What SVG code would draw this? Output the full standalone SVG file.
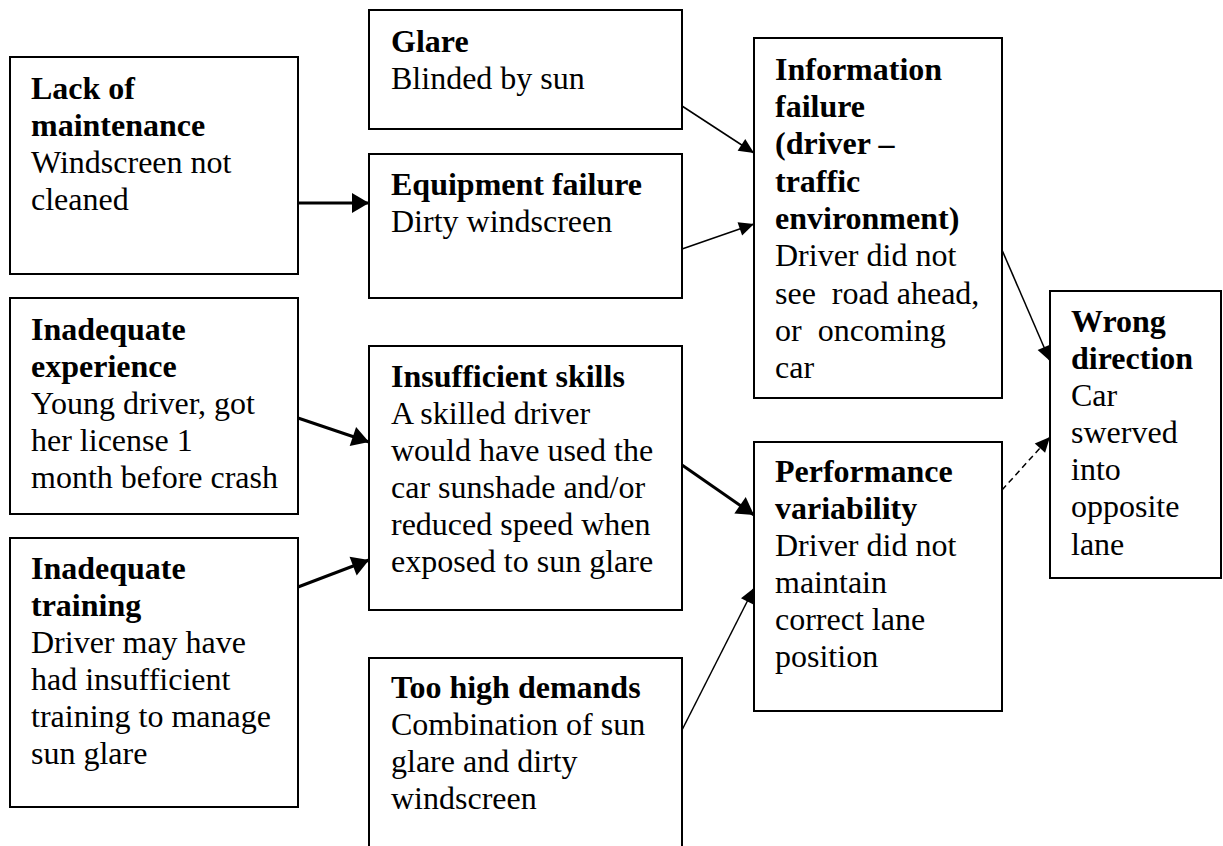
<svg xmlns="http://www.w3.org/2000/svg" width="1223" height="846" viewBox="0 0 1223 846">
<style>
  .box { fill: #fff; stroke: #000; stroke-width: 2; }
  text { font-family: "Liberation Serif", "Times New Roman", serif; font-size: 32px; fill: #000; white-space: pre; }
  .b { font-weight: bold; }
  .thick { stroke: #000; stroke-width: 3; fill: none; marker-end: url(#ahThick); }
  .thin { stroke: #000; stroke-width: 1.5; fill: none; marker-end: url(#ahThin); }
  .dash { stroke: #000; stroke-width: 1.5; fill: none; stroke-dasharray: 6 4; marker-end: url(#ahThin); }
</style>
<defs>
  <marker id="ahThick" markerUnits="userSpaceOnUse" markerWidth="17" markerHeight="20" refX="17" refY="10" orient="auto" overflow="visible">
    <path d="M0,0 L17,10 L0,20 z" fill="#000"/>
  </marker>
  <marker id="ahThin" markerUnits="userSpaceOnUse" markerWidth="15" markerHeight="14" refX="15" refY="7" orient="auto" overflow="visible">
    <path d="M0,0 L15,7 L0,14 z" fill="#000"/>
  </marker>
</defs>
<rect width="1223" height="846" fill="#fff"/>

<g id="connectors">
  <line class="thick" x1="298" y1="203" x2="369" y2="203"/>
  <line class="thin" x1="682" y1="106" x2="754" y2="153"/>
  <line class="thin" x1="682" y1="249" x2="754" y2="224"/>
  <line class="thin" x1="1002" y1="250" x2="1050" y2="361"/>
  <line class="thick" x1="298" y1="418" x2="369" y2="442"/>
  <line class="thick" x1="298" y1="587" x2="369" y2="560"/>
  <line class="thick" x1="682" y1="465" x2="754" y2="515"/>
  <line class="thin" x1="682" y1="730" x2="754" y2="588"/>
  <line class="dash" x1="1002" y1="490" x2="1050" y2="437"/>
</g>

<g id="lack-of-maintenance">
  <rect class="box" x="10" y="57" width="288" height="217"/>
  <text class="b" x="31" y="99">Lack of</text>
  <text class="b" x="31" y="136">maintenance</text>
  <text x="31" y="173">Windscreen not</text>
  <text x="31" y="210">cleaned</text>
</g>

<g id="glare">
  <rect class="box" x="369" y="10" width="313" height="119"/>
  <text class="b" x="391" y="52">Glare</text>
  <text x="391" y="89">Blinded by sun</text>
</g>

<g id="equipment-failure">
  <rect class="box" x="369" y="154" width="313" height="144"/>
  <text class="b" x="391" y="195">Equipment failure</text>
  <text x="391" y="232">Dirty windscreen</text>
</g>

<g id="information-failure">
  <rect class="box" x="754" y="38" width="248" height="360"/>
  <text class="b" x="775" y="80">Information</text>
  <text class="b" x="775" y="117">failure</text>
  <text class="b" x="775" y="154">(driver –</text>
  <text class="b" x="775" y="192">traffic</text>
  <text class="b" x="775" y="229">environment)</text>
  <text x="775" y="266">Driver did not</text>
  <text x="775" y="304">see  road ahead,</text>
  <text x="775" y="341">or  oncoming</text>
  <text x="775" y="378">car</text>
</g>

<g id="wrong-direction">
  <rect class="box" x="1050" y="291" width="171" height="287"/>
  <text class="b" x="1071" y="332">Wrong</text>
  <text class="b" x="1071" y="369">direction</text>
  <text x="1071" y="406">Car</text>
  <text x="1071" y="443">swerved</text>
  <text x="1071" y="480">into</text>
  <text x="1071" y="517">opposite</text>
  <text x="1071" y="555">lane</text>
</g>

<g id="inadequate-experience">
  <rect class="box" x="10" y="298" width="288" height="216"/>
  <text class="b" x="31" y="340">Inadequate</text>
  <text class="b" x="31" y="377">experience</text>
  <text x="31" y="414">Young driver, got</text>
  <text x="31" y="451">her license 1</text>
  <text x="31" y="488">month before crash</text>
</g>

<g id="insufficient-skills">
  <rect class="box" x="369" y="346" width="313" height="264"/>
  <text class="b" x="391" y="387">Insufficient skills</text>
  <text x="391" y="424">A skilled driver</text>
  <text x="391" y="461">would have used the</text>
  <text x="391" y="498">car sunshade and/or</text>
  <text x="391" y="535">reduced speed when</text>
  <text x="391" y="572">exposed to sun glare</text>
</g>

<g id="inadequate-training">
  <rect class="box" x="10" y="538" width="288" height="269"/>
  <text class="b" x="31" y="579">Inadequate</text>
  <text class="b" x="31" y="616">training</text>
  <text x="31" y="653">Driver may have</text>
  <text x="31" y="690">had insufficient</text>
  <text x="31" y="727">training to manage</text>
  <text x="31" y="764">sun glare</text>
</g>

<g id="too-high-demands">
  <rect class="box" x="369" y="658" width="313" height="200"/>
  <text class="b" x="391" y="698">Too high demands</text>
  <text x="391" y="735">Combination of sun</text>
  <text x="391" y="772">glare and dirty</text>
  <text x="391" y="809">windscreen</text>
</g>

<g id="performance-variability">
  <rect class="box" x="754" y="442" width="248" height="269"/>
  <text class="b" x="775" y="482">Performance</text>
  <text class="b" x="775" y="519">variability</text>
  <text x="775" y="556">Driver did not</text>
  <text x="775" y="593">maintain</text>
  <text x="775" y="630">correct lane</text>
  <text x="775" y="667">position</text>
</g>
</svg>
